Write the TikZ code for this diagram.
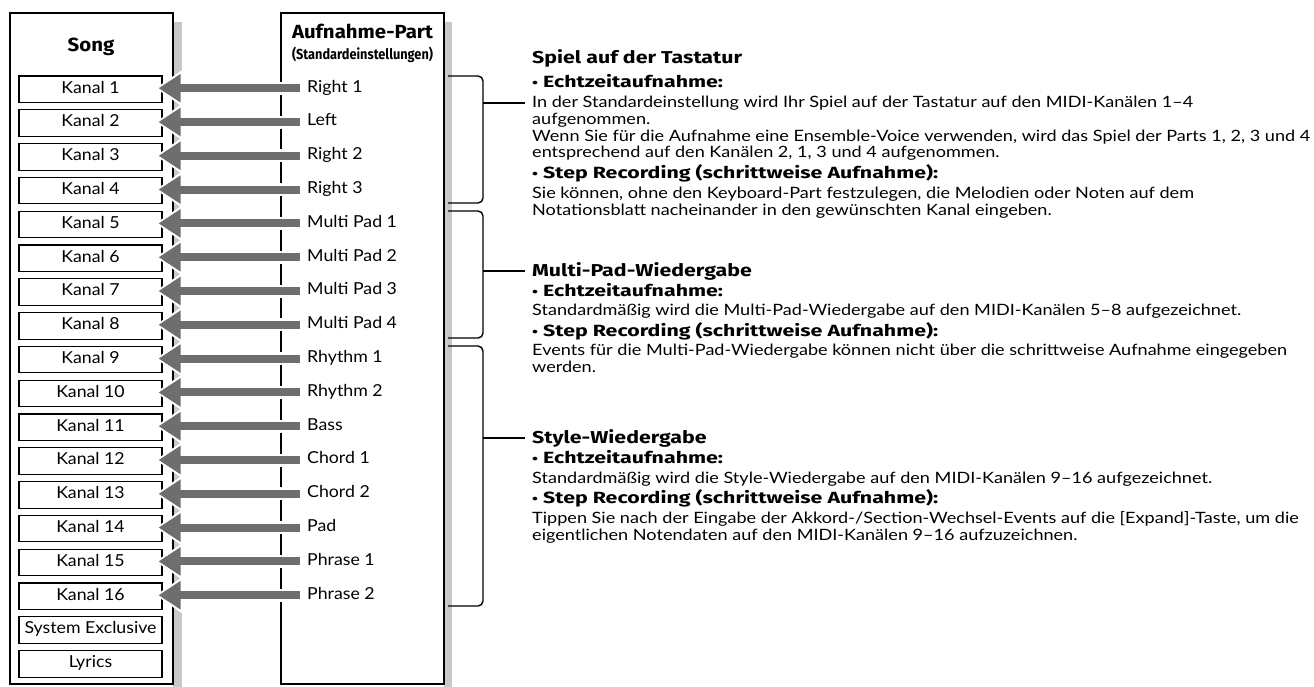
\documentclass[tikz,border=0pt]{standalone}
\usepackage{fontspec}
\setmainfont{Lato}
\newfontfamily\hfam{Fira Sans}
\usepackage{graphicx}
\usetikzlibrary{arrows.meta}
\definecolor{arrowgray}{HTML}{6E6E6E}
\definecolor{shadowgray}{HTML}{C8C8C8}
\newlength\calw
\newcommand\fitx[4]{%
  \settowidth\calw{#2#4}%
  \pgfmathsetmacro#1{#3/\calw}}
\newcommand\bodyfont{\fontsize{15.6}{15.6}\selectfont}
\newcommand\headfont{\hfam\fontsize{16.2}{16.2}\selectfont\bfseries}
\newcommand\secfont{\hfam\fontsize{17.2}{17.2}\selectfont\bfseries}
\newcommand\leftfont{\fontsize{16.5}{16.5}\selectfont}
\newcommand\titlefont{\hfam\fontsize{19}{19}\selectfont\bfseries}
\newcommand\stdfont{\hfam\fontsize{14.5}{14.5}\selectfont\bfseries}
\newcommand\bul{{\fontsize{13}{13}\selectfont•}}
\newcommand\bodyt[1]{\scalebox{\bfx}[1]{#1}}
\newcommand\headt[1]{\scalebox{\hfx}[1]{#1}}
\newcommand\sect[1]{\scalebox{\sfx}[1]{#1}}
\newcommand\leftt[1]{\scalebox{\lfx}[1]{#1}}
\newcommand\titlet[1]{\scalebox{\tfx}[1]{#1}}
\begin{document}
\fitx\bfx{\bodyfont}{778}{Wenn Sie für die Aufnahme eine Ensemble-Voice verwenden, wird das Spiel der Parts 1, 2, 3 und 4}%
\fitx\hfx{\headfont}{406}{\bul\ Step Recording (schrittweise Aufnahme):}%
\fitx\sfx{\secfont}{210}{Spiel auf der Tastatur}%
\fitx\lfx{\leftfont}{132}{System Exclusive}%
\fitx\tfx{\titlefont}{141}{Aufnahme-Part}%
\begin{tikzpicture}[x=1pt,y=-1pt,
  shadow/.style={fill=shadowgray,draw=none},
  outer/.style={draw=black,fill=white,line width=2pt},
  kbox/.style={draw=black,line width=1.1pt,fill=white,minimum width=143pt,minimum height=26.5pt,inner sep=0pt,font=\leftfont,text height=11.8pt,text depth=4pt},
  plabel/.style={anchor=west,inner sep=0pt,font=\leftfont,text height=11.8pt,text depth=4pt},
  brk/.style={draw=black,line width=1.4pt,rounded corners=5pt},
  tick/.style={draw=black,line width=1.4pt},
  halo/.style={draw=white,line width=13pt,shorten <=5pt,shorten >=-7pt,-{Triangle[length=27pt,width=35pt]}},
  arr/.style={draw=arrowgray,line width=8pt,shorten <=7pt,shorten >=-4pt,-{Triangle[length=22pt,width=27pt]}},
  body/.style={anchor=base west,inner sep=0pt,font=\bodyfont},
  bhead/.style={anchor=base west,inner sep=0pt,font=\headfont},
  shead/.style={anchor=base west,inner sep=0pt,font=\secfont},
  title/.style={anchor=base,inner sep=0pt,font=\titlefont}
]
\useasboundingbox (0,0) rectangle (1314,686);
\clip (0,0) rectangle (1314,686);
% shadows
\path[shadow] (173,22) rectangle (182,690);
\path[shadow] (444,22) rectangle (452,690);
% outer boxes
\draw[outer] (10,13) rectangle (173,684);
\draw[outer] (281,13) rectangle (444,684);
% titles
\node[title] (song) at (91,51) {\titlet{Song}};
\node[title] (aufn) at (362.5,38) {\titlet{Aufnahme-Part}};
\node[anchor=base,inner sep=0pt,font=\stdfont] (std) at (362.5,59) {\resizebox{141pt}{\height}{(Standardeinstellungen)}};
% rows
\foreach \i/\lab in {1/Right 1,2/Left,3/Right 2,4/Right 3,5/Multi Pad 1,6/Multi Pad 2,7/Multi Pad 3,8/Multi Pad 4,9/Rhythm 1,10/Rhythm 2,11/Bass,12/Chord 1,13/Chord 2,14/Pad,15/Phrase 1,16/Phrase 2}{
  \pgfmathsetmacro\yy{89.2+(\i-1)*33.8}
  \node[kbox] (k\i) at (90.5,\yy) {\leftt{Kanal \i}};
  \node[plabel] (p\i) at (307,\yy-1) {\leftt{\lab}};
}
\node[kbox] (sysex) at (90.5,{89.2+16*33.8}) {\leftt{System Exclusive}};
\node[kbox] (lyr) at (90.5,{89.2+17*33.8}) {\leftt{Lyrics}};
% arrows
\foreach \i in {1,...,16}{\draw[halo] (p\i.west) -- (k\i.east |- p\i.west);}
\foreach \i in {1,...,16}{\draw[arr] (p\i.west) -- (k\i.east |- p\i.west);}
% brackets
\draw[brk] (448,76) -- (483,76) -- (483,203) -- (448,203);
\draw[brk] (448,211) -- (483,211) -- (483,338) -- (448,338);
\draw[brk] (448,346) -- (483,346) -- (483,606) -- (448,606);
\coordinate (b1) at (483,103);
\coordinate (b2) at (483,271);
\coordinate (b3) at (483,438);
\coordinate (e1) at (525,103);
\coordinate (e2) at (525,271);
\coordinate (e3) at (525,438);
\draw[tick] (b1) -- (e1);
\draw[tick] (b2) -- (e2);
\draw[tick] (b3) -- (e3);
% right texts
\node[shead] (t1) at (532,63) {\sect{Spiel auf der Tastatur}};
\node[bhead] (t2) at (532,87) {\headt{\bul\ Echtzeitaufnahme:}};
\node[body] (t3) at (532,107.5) {\bodyt{In der Standardeinstellung wird Ihr Spiel auf der Tastatur auf den MIDI-Kanälen 1–4}};
\node[body] (t4) at (532,124.2) {\bodyt{aufgenommen.}};
\node[body] (t5) at (532,141) {\bodyt{Wenn Sie für die Aufnahme eine Ensemble-Voice verwenden, wird das Spiel der Parts 1, 2, 3 und 4}};
\node[body] (t6) at (532,157.8) {\bodyt{entsprechend auf den Kanälen 2, 1, 3 und 4 aufgenommen.}};
\node[bhead] (t7) at (532,178.5) {\headt{\bul\ Step Recording (schrittweise Aufnahme):}};
\node[body] (t8) at (532,198) {\bodyt{Sie können, ohne den Keyboard-Part festzulegen, die Melodien oder Noten auf dem}};
\node[body] (t9) at (532,215) {\bodyt{Notationsblatt nacheinander in den gewünschten Kanal eingeben.}};
\node[shead] (t10) at (532,276.5) {\sect{Multi-Pad-Wiedergabe}};
\node[bhead] (t11) at (532,296.5) {\headt{\bul\ Echtzeitaufnahme:}};
\node[body] (t12) at (532,315.5) {\bodyt{Standardmäßig wird die Multi-Pad-Wiedergabe auf den MIDI-Kanälen 5–8 aufgezeichnet.}};
\node[bhead] (t13) at (532,336) {\headt{\bul\ Step Recording (schrittweise Aufnahme):}};
\node[body] (t14) at (532,355.5) {\bodyt{Events für die Multi-Pad-Wiedergabe können nicht über die schrittweise Aufnahme eingegeben}};
\node[body] (t15) at (532,372.5) {\bodyt{werden.}};
\node[shead] (t16) at (532,443.5) {\sect{Style-Wiedergabe}};
\node[bhead] (t17) at (532,463.5) {\headt{\bul\ Echtzeitaufnahme:}};
\node[body] (t18) at (532,483.5) {\bodyt{Standardmäßig wird die Style-Wiedergabe auf den MIDI-Kanälen 9–16 aufgezeichnet.}};
\node[bhead] (t19) at (532,503.5) {\headt{\bul\ Step Recording (schrittweise Aufnahme):}};
\node[body] (t20) at (532,523.5) {\bodyt{Tippen Sie nach der Eingabe der Akkord-/Section-Wechsel-Events auf die [Expand]-Taste, um die}};
\node[body] (t21) at (532,540.5) {\bodyt{eigentlichen Notendaten auf den MIDI-Kanälen 9–16 aufzuzeichnen.}};
\end{tikzpicture}
\end{document}
